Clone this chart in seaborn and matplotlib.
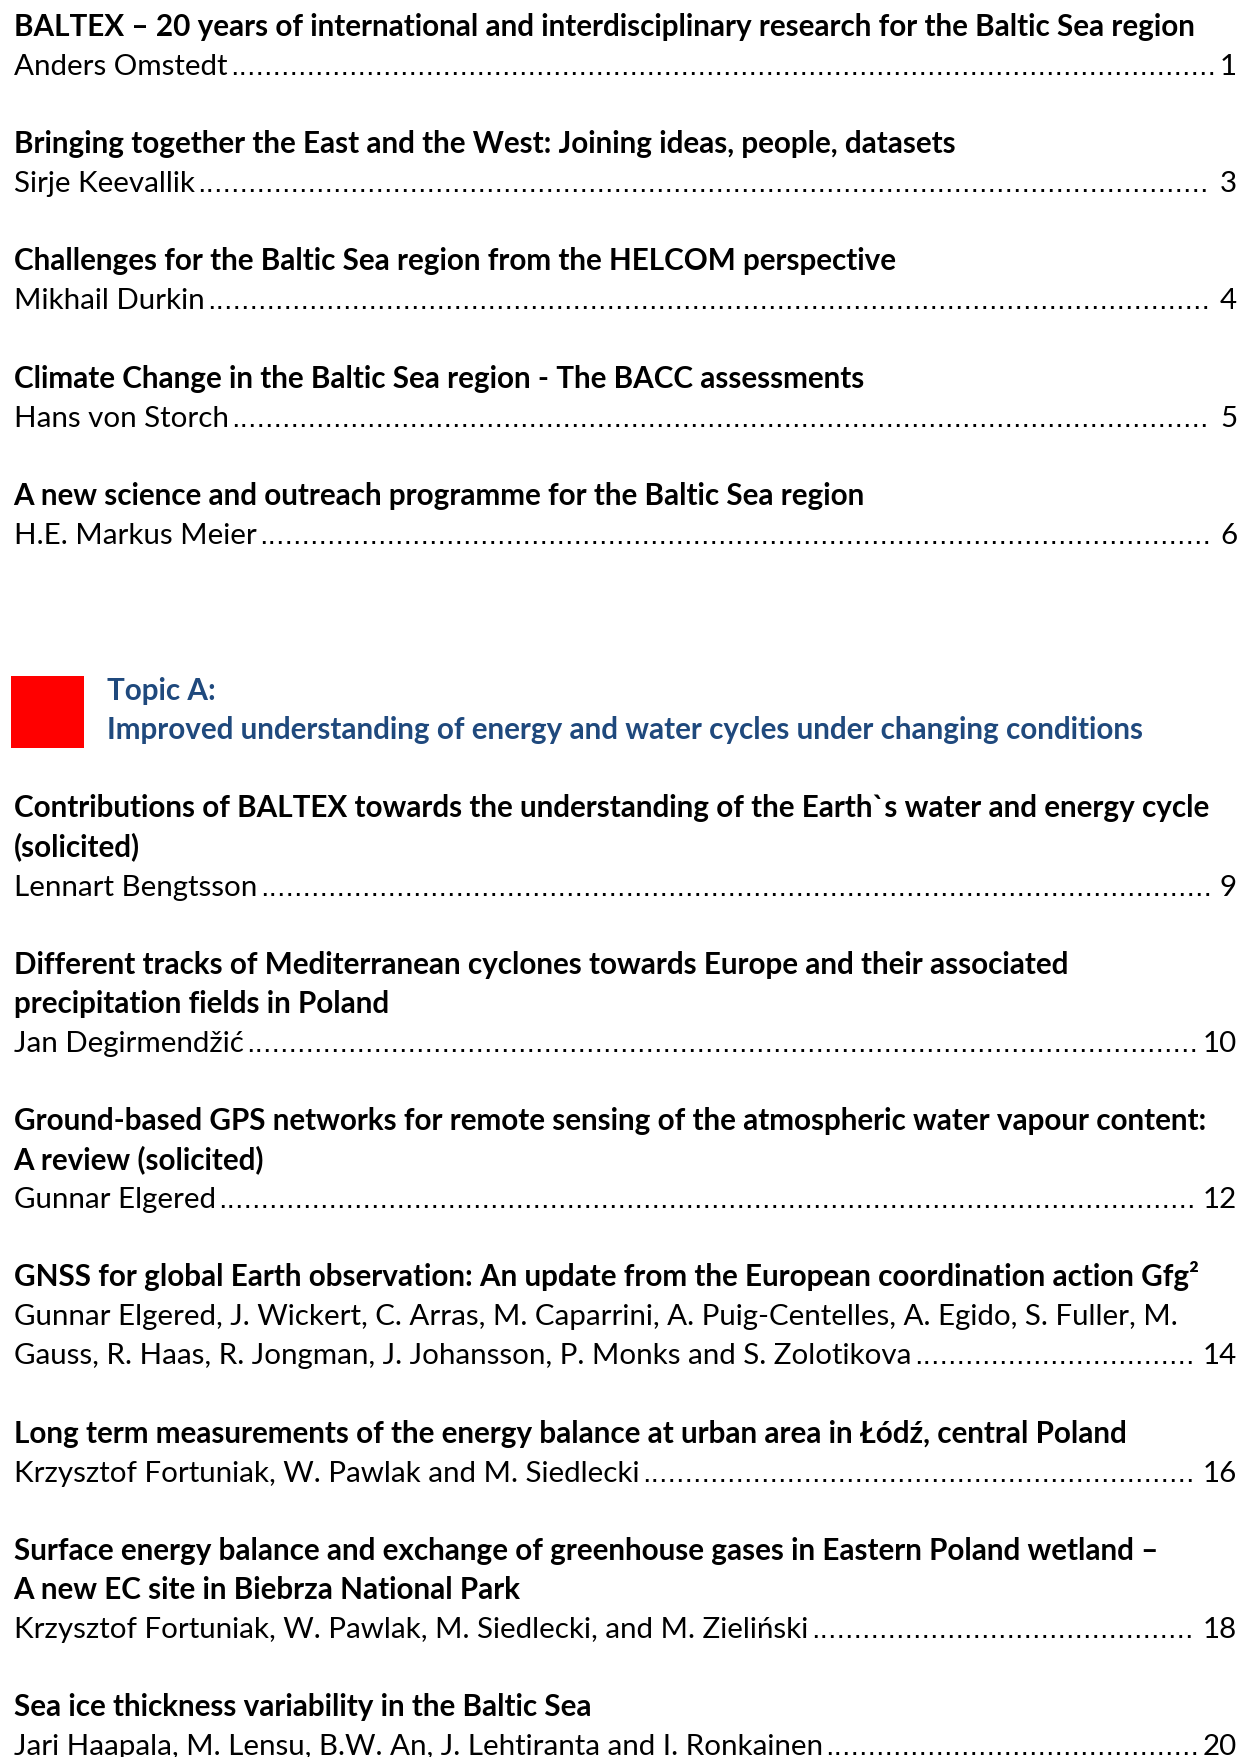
import matplotlib
matplotlib.use("Agg")
import matplotlib.pyplot as plt
import seaborn as sns
from matplotlib.patches import Rectangle

# opening papers
intro_titles = [
    ["BALTEX – 20 years of international and interdisciplinary research for the Baltic Sea region"],
    ["Bringing together the East and the West: Joining ideas, people, datasets"],
    ["Challenges for the Baltic Sea region from the HELCOM perspective"],
    ["Climate Change in the Baltic Sea region - The BACC assessments"],
    ["A new science and outreach programme for the Baltic Sea region"],
]
intro_authors = [
    ["Anders Omstedt"],
    ["Sirje Keevallik"],
    ["Mikhail Durkin"],
    ["Hans von Storch"],
    ["H.E. Markus Meier"],
]
intro_pages = ["1", "3", "4", "5", "6"]

# topic A
topic_label = "Topic A:"
topic_name = "Improved understanding of energy and water cycles under changing conditions"

topic_titles = [
    ["Contributions of BALTEX towards the understanding of the Earth`s water and energy cycle",
     "(solicited)"],
    ["Different tracks of Mediterranean cyclones towards Europe and their associated",
     "precipitation fields in Poland"],
    ["Ground-based GPS networks for remote sensing of the atmospheric water vapour content:",
     "A review (solicited)"],
    ["GNSS for global Earth observation: An update from the European coordination action Gfg²"],
    ["Long term measurements of the energy balance at urban area in Łódź, central Poland"],
    ["Surface energy balance and exchange of greenhouse gases in Eastern Poland wetland –",
     "A new EC site in Biebrza National Park"],
    ["Sea ice thickness variability in the Baltic Sea"],
]
topic_authors = [
    ["Lennart Bengtsson"],
    ["Jan Degirmendžić"],
    ["Gunnar Elgered"],
    ["Gunnar Elgered, J. Wickert, C. Arras, M. Caparrini, A. Puig-Centelles, A. Egido, S. Fuller, M.",
     "Gauss, R. Haas, R. Jongman, J. Johansson, P. Monks and S. Zolotikova"],
    ["Krzysztof Fortuniak, W. Pawlak and M. Siedlecki"],
    ["Krzysztof Fortuniak, W. Pawlak, M. Siedlecki, and M. Zieliński"],
    ["Jari Haapala, M. Lensu, B.W. An, J. Lehtiranta and I. Ronkainen"],
]
topic_pages = ["9", "10", "12", "14", "16", "18", "20"]

sns.set_theme(style="white")
plt.rcParams["font.family"] = ["Lato", "DejaVu Sans"]

W, H = 1242, 1758
fig = plt.figure(figsize=(W / 100, H / 100), dpi=100)
ax = fig.add_axes([0, 0, 1, 1])
ax.set_xlim(0, W)
ax.set_ylim(H, 0)
ax.axis("off")
rend = fig.canvas.get_renderer()

LEFT = 13.5
RIGHT = 1237
TOP = 36.0
PITCH = 39.07
BLUE = "#1F497D"
DOTFONT = ["DejaVu Sans"]


def width(s, size, weight="normal", family=None):
    t = ax.text(0, 0, s, fontsize=size, fontweight=weight, family=family)
    w = t.get_window_extent(rend).width
    t.remove()
    return w


# scale fonts so line lengths match the page
fs_bold = 20 * 1181 / width(intro_titles[0][0], 20, "bold")
fs_reg = 20 * 1165 / width(topic_authors[3][0], 20)
fs_dot = fs_reg * 0.9
dot_w = width("." * 100, fs_dot, family=DOTFONT) / 100


def y_of(i):
    return TOP + i * PITCH


def put(i, s, **kw):
    return ax.text(LEFT, y_of(i), s, va="baseline", **kw)


def entry(i, titles, authors, page):
    for line in titles:
        put(i, line, fontsize=fs_bold, fontweight="bold", color="black")
        i += 1
    for line in authors:
        t = put(i, line, fontsize=fs_reg, color="black")
        i += 1
    y = y_of(i - 1)
    end = t.get_window_extent(rend).x1 + 3
    p = ax.text(RIGHT, y, page, ha="right", va="baseline", fontsize=fs_reg, color="black")
    start = p.get_window_extent(rend).x0 - 3
    n = int((start - end) / dot_w)
    ax.text(end, y, "." * n, va="baseline", fontsize=fs_dot, color="black",
            family=DOTFONT)
    return i + 1


line = 0
for tt, aa, pg in zip(intro_titles, intro_authors, intro_pages):
    line = entry(line, tt, aa, pg)

line += 2
ax.add_patch(Rectangle((11, 677), 73, 72, color="#FF0000", lw=0))
ax.text(107, y_of(line), topic_label, va="baseline", fontsize=fs_bold,
        fontweight="bold", color=BLUE)
ax.text(107, y_of(line + 1), topic_name, va="baseline", fontsize=fs_bold,
        fontweight="bold", color=BLUE)
line += 3

for tt, aa, pg in zip(topic_titles, topic_authors, topic_pages):
    line = entry(line, tt, aa, pg)

fig.savefig("out.png", dpi=100, facecolor="white")
